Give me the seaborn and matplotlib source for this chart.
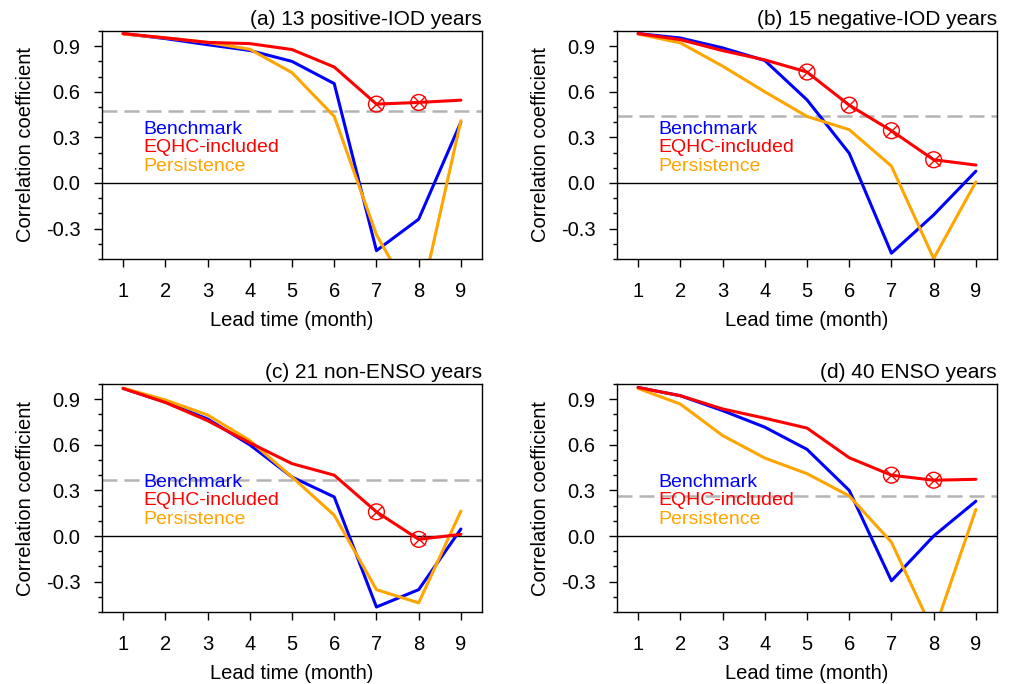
import numpy as np
import pandas as pd
import matplotlib
matplotlib.use("Agg")
import matplotlib.pyplot as plt
import seaborn as sns
from matplotlib.ticker import MultipleLocator

lead = [1, 2, 3, 4, 5, 6, 7, 8, 9]

titles = ["(a) 13 positive-IOD years", "(b) 15 negative-IOD years",
          "(c) 21 non-ENSO years", "(d) 40 ENSO years"]

bench_a = [0.983, 0.95, 0.91, 0.872, 0.80, 0.654, -0.445, -0.238, 0.40]
eqhc_a = [0.983, 0.955, 0.925, 0.917, 0.878, 0.763, 0.519, 0.53, 0.545]
pers_a = [0.98, 0.955, 0.925, 0.88, 0.726, 0.438, -0.34, -0.83, 0.41]

bench_b = [0.983, 0.954, 0.889, 0.806, 0.547, 0.196, -0.462, -0.21, 0.078]
eqhc_b = [0.983, 0.943, 0.871, 0.81, 0.73, 0.512, 0.344, 0.153, 0.118]
pers_b = [0.98, 0.922, 0.769, 0.60, 0.438, 0.351, 0.111, -0.497, 0.007]

bench_c = [0.971, 0.88, 0.77, 0.60, 0.388, 0.257, -0.467, -0.353, 0.046]
eqhc_c = [0.971, 0.879, 0.759, 0.613, 0.476, 0.40, 0.159, -0.022, 0.011]
pers_c = [0.973, 0.895, 0.796, 0.628, 0.388, 0.137, -0.353, -0.44, 0.164]

bench_d = [0.977, 0.923, 0.825, 0.716, 0.57, 0.30, -0.295, 0.0, 0.229]
eqhc_d = [0.977, 0.923, 0.836, 0.775, 0.71, 0.515, 0.40, 0.367, 0.373]
pers_d = [0.971, 0.868, 0.661, 0.513, 0.41, 0.264, -0.041, -0.635, 0.175]

signif = [0.475, 0.438, 0.371, 0.264]
marked = [[7, 8], [5, 6, 7, 8], [7, 8], [7, 8]]

series_names = ["Benchmark", "EQHC-included", "Persistence"]
colors = {"Benchmark": "#0000ff", "EQHC-included": "#ff0000", "Persistence": "#ffa500"}

panels = [(bench_a, eqhc_a, pers_a), (bench_b, eqhc_b, pers_b),
          (bench_c, eqhc_c, pers_c), (bench_d, eqhc_d, pers_d)]

sns.set_style("ticks")
plt.rcParams["font.family"] = ["Liberation Sans", "DejaVu Sans"]
plt.rcParams["axes.linewidth"] = 1.0
plt.rcParams["text.color"] = "black"
plt.rcParams["axes.labelcolor"] = "black"
plt.rcParams["xtick.color"] = "black"
plt.rcParams["ytick.color"] = "black"
plt.rcParams["axes.edgecolor"] = "black"

W, H = 1012, 684
fig = plt.figure(figsize=(W / 100, H / 100), dpi=100)

rects_px = [(102, 31), (617, 31), (102, 384), (617, 384)]
aw, ah = 380, 228

for i, (vals, title) in enumerate(zip(panels, titles)):
    lx, ty = rects_px[i]
    ax = fig.add_axes([lx / W, (H - ty - ah) / H, aw / W, ah / H])
    df = pd.DataFrame({
        "lead": lead * 3,
        "corr": list(vals[0]) + list(vals[1]) + list(vals[2]),
        "series": sum([[n] * len(lead) for n in series_names], []),
    })
    ax.axhline(0, color="black", lw=1.0, zorder=1)
    ax.axhline(signif[i], color="#b4b4b4", lw=1.8, dashes=(6, 2.8), zorder=1)
    for name in ["Benchmark", "Persistence", "EQHC-included"]:
        sub = df[df["series"] == name]
        sns.lineplot(data=sub, x="lead", y="corr", color=colors[name], lw=2.2,
                     ax=ax, legend=False, zorder=3 if name == "EQHC-included" else 2)
    mk = df[(df["series"] == "EQHC-included") & (df["lead"].isin(marked[i]))]
    sns.scatterplot(data=mk, x="lead", y="corr", marker="o", s=130, facecolor="none",
                    edgecolor="#ff0000", linewidth=1.0, ax=ax, legend=False, zorder=4)
    sns.scatterplot(data=mk, x="lead", y="corr", marker="x", s=75, color="#ff0000",
                    linewidth=1.0, ax=ax, legend=False, zorder=4)

    ax.set_xlim(0.5, 9.5)
    ax.set_ylim(-0.5, 1.0)
    ax.set_xticks(lead)
    ax.set_yticks([-0.3, 0.0, 0.3, 0.6, 0.9])
    ax.set_yticklabels(["-0.3", "0.0", "0.3", "0.6", "0.9"])
    ax.yaxis.set_minor_locator(MultipleLocator(0.1))
    ax.tick_params(axis="both", which="major", direction="out", length=5.5, width=1.0,
                   labelsize=14.5, colors="black")
    ax.tick_params(axis="x", which="major", pad=11)
    ax.tick_params(axis="y", which="major", pad=10)
    ax.tick_params(axis="y", which="minor", direction="out", length=3, width=1.0,
                   colors="black")
    for s in ax.spines.values():
        s.set_visible(True)
        s.set_color("black")
        s.set_linewidth(1.0)
    ax.set_xlabel("Lead time (month)", fontsize=14.5, labelpad=7, color="black")
    ax.set_ylabel("Correlation coefficient", fontsize=14.5, labelpad=8, color="black")
    ax.set_title(title, loc="right", fontsize=15, pad=4, color="black")

    for name, yy in zip(series_names, [0.567, 0.487, 0.405]):
        ax.text(0.108, yy, name, transform=ax.transAxes, color=colors[name],
                fontsize=14, va="center", ha="left")

fig.savefig("out.png", dpi=100)
